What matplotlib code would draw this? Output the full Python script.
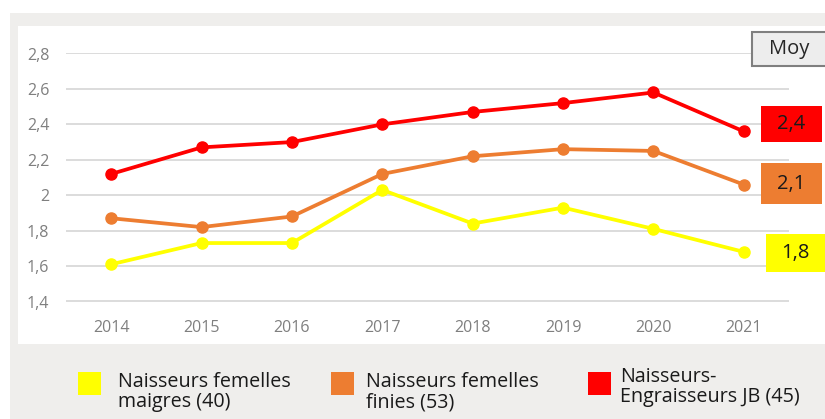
import matplotlib
matplotlib.use("Agg")
import matplotlib.pyplot as plt
from matplotlib.patches import Rectangle

# Données
years = ["2014", "2015", "2016", "2017", "2018", "2019", "2020", "2021"]
maigres = [1.61, 1.73, 1.73, 2.03, 1.84, 1.93, 1.81, 1.68]
finies = [1.87, 1.82, 1.88, 2.12, 2.22, 2.26, 2.25, 2.06]
engraisseurs = [2.12, 2.27, 2.30, 2.40, 2.47, 2.52, 2.58, 2.36]
series_names = ["Naisseurs femelles\nmaigres (40)",
                "Naisseurs femelles\nfinies (53)",
                "Naisseurs-\nEngraisseurs JB (45)"]
moy_labels = ["1,8", "2,1", "2,4"]
y_ticks = [1.4, 1.6, 1.8, 2.0, 2.2, 2.4, 2.6, 2.8]

colors = ["#FFFF00", "#ED7D31", "#FF0000"]
W, H = 825, 419
FONT = ["Open Sans", "DejaVu Sans"]


def px(x, y, w=0, h=0):
    """Pixel box (top-left origin) -> figure fraction (x, y, w, h)."""
    return x / W, 1 - (y + h) / H, w / W, h / H


def add_rect(box, **kw):
    fx, fy, fw, fh = px(*box)
    fig.patches.append(Rectangle((fx, fy), fw, fh, transform=fig.transFigure, **kw))
    return fx, fy, fw, fh


fig = plt.figure(figsize=(W / 100, H / 100), dpi=100)
fig.patch.set_facecolor("white")

# fond gris et zone blanche du graphique
add_rect((10, 13, 815, 406), facecolor="#EFEEEC", edgecolor="none", zorder=-2)
add_rect((18, 26, 807, 318), facecolor="white", edgecolor="none", zorder=-1)

ax = fig.add_axes(px(66, 53.5, 723, 248))
ax.set_zorder(1)
ax.set_facecolor("none")
x = list(range(len(years)))
for vals, c in zip([maigres, finies, engraisseurs], colors):
    ax.plot(x, vals, color=c, lw=2.7, marker="o", ms=8, zorder=3,
            solid_capstyle="round")

ax.set_xlim(-0.5, len(years) - 0.5)
ax.set_ylim(1.4, 2.8)
ax.set_xticks(x)
ax.set_xticklabels(years)
ax.set_yticks(y_ticks)
ax.set_yticklabels([("%g" % v).replace(".", ",") for v in y_ticks])
ax.tick_params(length=0, labelsize=11.5, labelcolor="#7F7F7F", pad=13)
ax.tick_params(axis="y", pad=12)
for lab in ax.get_xticklabels() + ax.get_yticklabels():
    lab.set_family(FONT)
ax.yaxis.grid(True, color="#D9D9D9", lw=1.3, zorder=0)
ax.set_axisbelow(True)
for s in ax.spines.values():
    s.set_visible(False)

# boîte "Moy"
fx, fy, fw, fh = add_rect((752, 32, 75, 34), facecolor="#EDEDED",
                          edgecolor="#7F7F7F", lw=1.5, zorder=4)
fig.text(fx + fw / 2, fy + fh / 2, "Moy", ha="center", va="center",
         fontsize=14.5, color="#262626", family=FONT, zorder=5)

# étiquettes des moyennes
boxes = [(766, 234, 59, 38), (761, 163, 61, 41), (761, 106, 61, 36)]
for box, lab, c in zip(boxes, moy_labels, colors):
    fx, fy, fw, fh = add_rect(box, facecolor=c, edgecolor="none", zorder=4)
    fig.text(fx + fw / 2, fy + fh / 2, lab, ha="center", va="center",
             fontsize=14.5, color="#1A1A1A", family=FONT, zorder=5)

# légende
leg = [(78, 118), (331, 366), (588, 620)]
for (sx, tx), name, c in zip(leg, series_names, colors):
    add_rect((sx, 372, 23, 23), facecolor=c, edgecolor="none", zorder=4)
    ty = 367 if "JB" in name else 372
    fig.text(tx / W, 1 - ty / H, name, ha="left", va="top", fontsize=14.2,
             color="#1A1A1A", family=FONT, linespacing=1.0)

fig.savefig("out.png", dpi=100)
